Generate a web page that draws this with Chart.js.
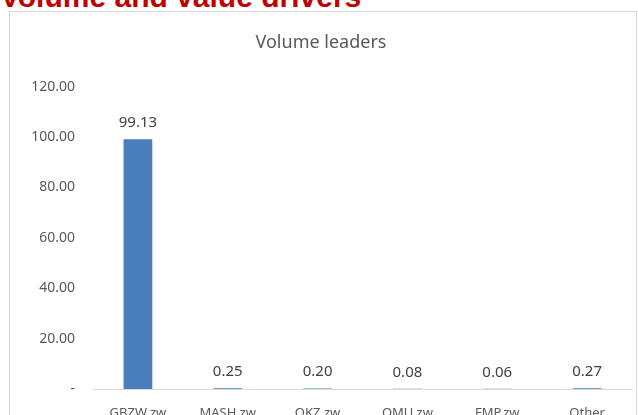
<!DOCTYPE html>
<html>
<head>
<meta charset="utf-8">
<script src="https://cdn.jsdelivr.net/npm/chart.js@4"></script>
<style>
  html, body { margin: 0; padding: 0; background: #fff; overflow: hidden; }
  body { width: 638px; height: 415px; position: relative; }
  #heading {
    position: absolute; left: 0; top: -20px; line-height: 30px;
    font: bold 30px "Liberation Sans", Arial, sans-serif; color: #c00000;
    white-space: nowrap;
  }
  #box {
    position: absolute; left: 9px; top: 11px; width: 626px; height: 428px;
    border: 1px solid #d9d9d9; background: #fff;
  }
</style>
</head>
<body>
<div id="heading">Volume and value drivers</div>
<div id="box"><canvas id="volumeChart" width="626" height="428"></canvas></div>
<script>
// Volume leaders data
const categories = ['GBZW.zw', 'MASH.zw', 'OKZ.zw', 'OMU.zw', 'FMP.zw', 'Other'];
const volumes = [99.13, 0.25, 0.20, 0.08, 0.06, 0.27];
const yTicks = [0, 20, 40, 60, 80, 100, 120];

// Helper: draw the value above each bar
const valueLabels = {
  id: 'valueLabels',
  afterDatasetsDraw(chart) {
    const ctx = chart.ctx;
    const meta = chart.getDatasetMeta(0);
    ctx.save();
    ctx.font = '15px "Noto Sans", sans-serif';
    ctx.fillStyle = '#404040';
    ctx.textAlign = 'center';
    ctx.textBaseline = 'bottom';
    meta.data.forEach((bar, i) => {
      ctx.fillText(volumes[i].toFixed(2), bar.x, bar.y - 9);
    });
    ctx.restore();
  }
};

const ctx = document.getElementById('volumeChart').getContext('2d');
new Chart(ctx, {
  type: 'bar',
  data: {
    labels: categories,
    datasets: [{
      label: 'Volume',
      data: volumes,
      backgroundColor: '#4a7ebb',
      borderWidth: 0,
      barPercentage: 0.32,
      categoryPercentage: 1
    }]
  },
  options: {
    responsive: false,
    animation: false,
    layout: { padding: { left: 0, right: 4, top: 0, bottom: 0 } },
    plugins: {
      legend: { display: false },
      tooltip: { enabled: false },
      title: {
        display: true,
        text: 'Volume leaders',
        color: '#595959',
        font: { family: 'Noto Sans', size: 18, weight: 'normal' },
        padding: { top: 20, bottom: 33 }
      }
    },
    scales: {
      y: {
        min: 0,
        max: 120,
        afterBuildTicks: (scale) => { scale.ticks = yTicks.map(v => ({ value: v })); },
        afterFit: (scale) => { scale.width = 83; },
        grid: { display: false },
        border: { display: false },
        ticks: {
          color: '#595959',
          font: { family: 'Noto Sans', size: 14 },
          padding: 10,
          callback: (val) => val === 0 ? '-' : val.toFixed(2)
        }
      },
      x: {
        afterFit: (scale) => { scale.height = 51; },
        grid: { display: false },
        border: { display: true, color: '#d9d9d9', width: 1 },
        ticks: {
          color: '#595959',
          font: { family: 'Noto Sans', size: 13 },
          padding: 8,
          maxRotation: 0,
          autoSkip: false
        }
      }
    }
  },
  plugins: [valueLabels]
});
</script>
</body>
</html>
